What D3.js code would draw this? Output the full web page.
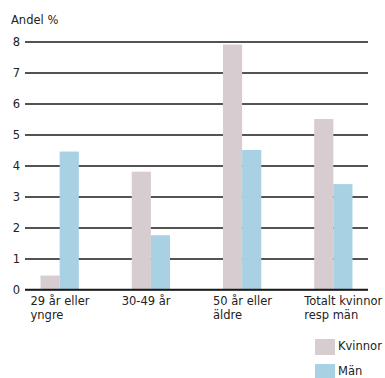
<!DOCTYPE html>
<html>
<head>
<meta charset="utf-8">
<script src="https://cdn.jsdelivr.net/npm/d3@7"></script>
<style>
  html, body { margin: 0; padding: 0; background: #fff; }
  svg text { font-family: "DejaVu Sans", sans-serif; font-size: 11.5px; fill: #222; }
</style>
</head>
<body>
<svg id="chart" width="385" height="378"></svg>
<script>
// Andel % per åldersgrupp, kvinnor och män
const categories = [["29 år eller", "yngre"], ["30-49 år"], ["50 år eller", "äldre"], ["Totalt kvinnor", "resp män"]];
const series = ["Kvinnor", "Män"];
const kvinnor = [0.45, 3.8, 7.9, 5.5];
const man = [4.45, 1.75, 4.5, 3.4];
const yTicks = [0, 1, 2, 3, 4, 5, 6, 7, 8];
const colors = ["#d7cdd1", "#a8d1e4"];

const svg = d3.select("#chart");
const keys = categories.map(c => c.join(" "));
const values = [kvinnor, man];

const y = d3.scaleLinear().domain([0, 8]).range([289.5, 41.5]);
const x = d3.scaleBand().domain(keys).range([25, 368]).paddingInner(0.58).paddingOuter(0.17);
const xs = d3.scaleBand().domain(series).range([0, x.bandwidth()]);
const color = d3.scaleOrdinal().domain(series).range(colors);

// y axis: tick labels with gridlines across the plot
const yAxis = d3.axisLeft(y).tickValues(yTicks).tickSize(-(368 - 25)).tickPadding(5).tickFormat(d3.format("d"));
const gy = svg.append("g").attr("transform", "translate(25,0)").call(yAxis);
gy.select(".domain").remove();
gy.selectAll(".tick line").attr("stroke", "#1a1a1a").attr("stroke-width", 1.6);
gy.selectAll(".tick text").attr("font-family", "DejaVu Sans").attr("font-size", 11.5).attr("fill", "#222");

// bars
const groups = svg.append("g").selectAll("g").data(keys).join("g")
  .attr("transform", d => `translate(${x(d)},0)`);
groups.selectAll("rect")
  .data((d, i) => series.map((s, j) => ({ s, v: values[j][i] })))
  .join("rect")
  .attr("x", d => xs(d.s))
  .attr("width", xs.bandwidth())
  .attr("y", d => y(d.v))
  .attr("height", d => y(0) - y(d.v))
  .attr("fill", d => color(d.s));

// redraw the baseline on top of the bars
svg.append("line").attr("x1", 25).attr("x2", 368).attr("y1", y(0)).attr("y2", y(0))
  .attr("stroke", "#1a1a1a").attr("stroke-width", 1.6);

// category labels
const labels = svg.append("g").selectAll("text").data(categories).join("text")
  .attr("x", (d, i) => x(keys[i]) - 10)
  .attr("y", 305);
labels.selectAll("tspan").data(d => d).join("tspan")
  .attr("x", function () { return this.parentNode.getAttribute("x"); })
  .attr("dy", (d, i) => i === 0 ? 0 : 14)
  .text(d => d);

// axis title
svg.append("text").attr("x", 11).attr("y", 24).text("Andel %");

// legend
const legend = svg.append("g").selectAll("g").data(series).join("g")
  .attr("transform", (d, i) => `translate(315,${339 + i * 25})`);
legend.append("rect").attr("width", 20).attr("height", 16).attr("fill", d => color(d));
legend.append("text").attr("x", 23).attr("y", 11).text(d => d);
</script>
</body>
</html>
